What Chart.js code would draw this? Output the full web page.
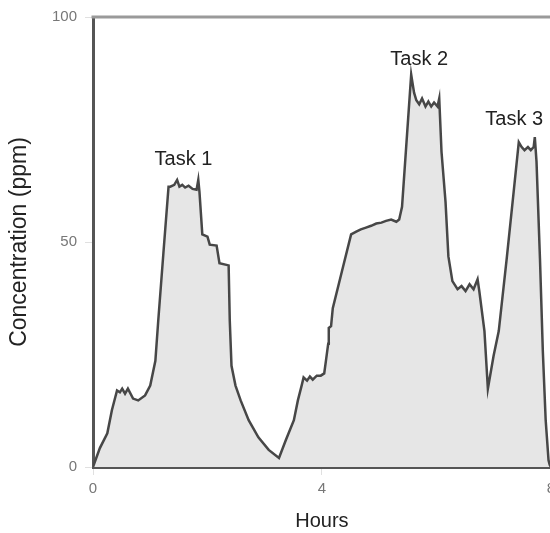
<!DOCTYPE html>
<html>
<head>
<meta charset="utf-8">
<script src="https://cdn.jsdelivr.net/npm/chart.js@4.4.0/dist/chart.umd.min.js"></script>
<style>
html,body{margin:0;padding:0;background:#fff;overflow:hidden;width:550px;height:533px;}
canvas{display:block;}
</style>
</head>
<body>
<canvas id="c" width="560" height="533"></canvas>
<script>
// Time (hours) and concentration (ppm)
const hours = [0,0.12,0.25,0.33,0.42,0.47,0.51,0.56,0.61,0.70,0.79,0.91,1.00,1.09,1.14,1.23,1.32,1.35,1.42,1.47,1.51,1.56,1.61,1.67,1.74,1.81,1.84,1.86,1.91,2.00,2.04,2.16,2.21,2.37,2.39,2.42,2.49,2.58,2.72,2.89,3.07,3.25,3.37,3.51,3.58,3.65,3.68,3.74,3.79,3.84,3.91,3.98,4.04,4.07,4.11,4.12,4.16,4.19,4.35,4.51,4.60,4.68,4.77,4.86,4.95,5.04,5.12,5.21,5.30,5.35,5.40,5.56,5.61,5.65,5.70,5.75,5.81,5.86,5.91,5.96,6.02,6.05,6.09,6.16,6.21,6.28,6.37,6.44,6.51,6.58,6.65,6.72,6.75,6.84,6.90,7.00,7.09,7.23,7.35,7.44,7.49,7.54,7.60,7.65,7.70,7.72,7.75,7.81,7.86,7.91,7.96,7.98,8.00];
const concentration = [0,4.2,7.5,12.6,17.0,16.6,17.4,16.3,17.4,15.2,14.8,15.9,18.1,23.6,32.5,47.5,62.3,62.3,62.7,63.8,62.3,62.7,62.1,62.5,61.8,61.6,63.8,61.2,51.7,51.2,49.4,49.2,45.3,44.8,32.5,22.5,18.1,14.8,10.4,6.6,3.8,2.0,6.0,10.4,14.8,18.3,19.9,19.2,20.1,19.4,20.3,20.3,20.8,23.6,27.4,30.9,31.3,35.3,43.5,51.7,52.3,52.8,53.2,53.6,54.1,54.3,54.7,55.0,54.5,55.0,57.8,87.2,83.2,81.5,80.6,81.9,80.1,81.2,80.1,81.0,80.1,81.9,70.0,58.9,46.8,41.3,39.5,40.2,39.1,40.6,39.5,41.7,39.1,30.2,17.4,24.7,30.2,46.4,61.1,72.2,71.1,70.4,71.1,70.4,71.1,73.3,67.8,46.4,25.8,10.4,1.5,0.5,0];
const xTicks = [0,4,8];
const yTicks = [0,50,100];
const taskLabels = ["Task 1","Task 2","Task 3"];
const taskHours = [1.58,5.70,7.36];
const taskConc = [68.4,90.5,77.3];

const FONT = "'Liberation Sans', Arial, sans-serif";
const points = hours.map((h,i)=>({x:h,y:concentration[i]}));

const extras = {
  id:'extras',
  afterDatasetsDraw(chart){
    const {ctx, chartArea:a, scales:{x,y}} = chart;
    ctx.save();
    // top frame line
    ctx.strokeStyle = '#9a9a9a';
    ctx.lineWidth = 3;
    ctx.beginPath();
    ctx.moveTo(a.left-1.5, a.top);
    ctx.lineTo(a.right+10, a.top);
    ctx.stroke();
    // task annotations
    ctx.fillStyle = '#222';
    ctx.font = '20px ' + FONT;
    ctx.textAlign = 'center';
    ctx.textBaseline = 'middle';
    taskLabels.forEach((t,i)=>{
      ctx.fillText(t, x.getPixelForValue(taskHours[i]), y.getPixelForValue(taskConc[i]));
    });
    ctx.restore();
  }
};

new Chart(document.getElementById('c'), {
  type:'line',
  data:{datasets:[{
    data:points,
    borderColor:'#474747',
    borderWidth:2.5,
    backgroundColor:'#e6e6e6',
    fill:'origin',
    pointRadius:0,
    tension:0
  }]},
  options:{
    responsive:false,
    animation:false,
    devicePixelRatio:1,
    layout:{padding:{top:14,right:0,left:0,bottom:0}},
    plugins:{legend:{display:false},tooltip:{enabled:false}},
    scales:{
      x:{
        type:'linear',min:0,max:8,
        afterBuildTicks(s){ s.ticks = xTicks.map(v=>({value:v})); },
        afterFit(s){ s.height = 66; },
        grid:{drawOnChartArea:false,drawTicks:true,tickLength:8,color:'#e0e0e0'},
        border:{display:true,color:'#555',width:3},
        ticks:{color:'#777',font:{size:15,family:FONT},padding:5,maxRotation:0},
        title:{display:true,text:'Hours',color:'#222',font:{size:20,family:FONT},padding:{top:4,bottom:0}}
      },
      y:{
        min:0,max:100,
        afterBuildTicks(s){ s.ticks = yTicks.map(v=>({value:v})); },
        afterFit(s){ s.width = 93; },
        grid:{drawOnChartArea:false,drawTicks:true,tickLength:8,color:'#e0e0e0'},
        border:{display:true,color:'#555',width:3},
        ticks:{color:'#777',font:{size:15,family:FONT},padding:8},
        title:{display:true,text:'Concentration (ppm)',color:'#222',font:{size:23,family:FONT},padding:{top:6,bottom:0}}
      }
    }
  },
  plugins:[extras]
});
</script>
</body>
</html>
